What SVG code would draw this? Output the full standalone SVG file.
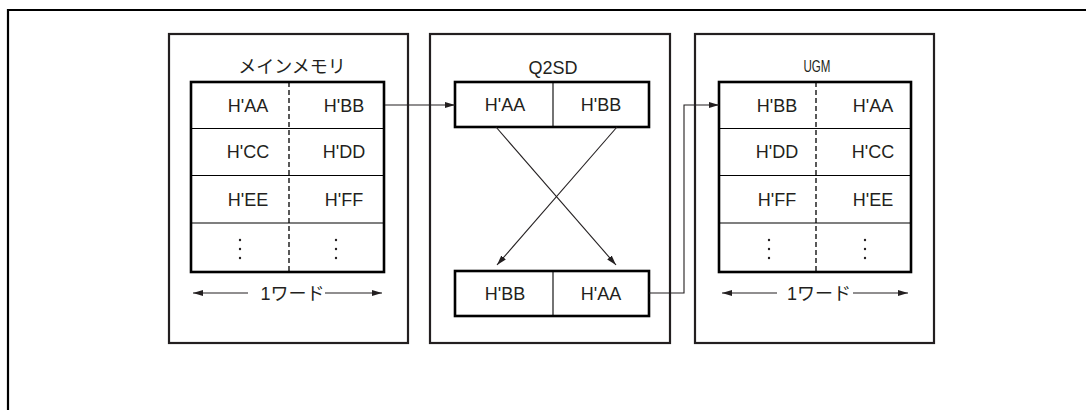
<svg xmlns="http://www.w3.org/2000/svg" width="1086" height="410" viewBox="0 0 1086 410">
<style>
.frame{fill:none;stroke:#000;stroke-width:2.2}
.box{fill:#fff;stroke:#231f20;stroke-width:2.2}
.tbl{fill:#fff;stroke:#000;stroke-width:2.6}
.row{stroke:#000;stroke-width:1.1;fill:none}
.dash{stroke:#000;stroke-width:1.3;stroke-dasharray:5 3;fill:none}
.con{stroke:#231f20;stroke-width:1.1;fill:none}
.t{font-family:"Liberation Sans",Arial,"Noto Sans CJK JP",sans-serif;font-size:18px;fill:#231f20;text-anchor:middle}
.j{font-family:"Noto Sans CJK JP","Liberation Sans",sans-serif;font-size:18px;fill:#231f20;text-anchor:middle}
.u{font-family:"Liberation Sans",Arial,sans-serif;font-size:17px;fill:#231f20;text-anchor:middle}
.dot{fill:#231f20}
</style>
<defs>
<marker id="ah" viewBox="0 0 10 6" refX="10" refY="3" markerWidth="10" markerHeight="6" markerUnits="userSpaceOnUse" orient="auto">
<path d="M0,0 L10,3 L0,6 Z" fill="#231f20"/>
</marker>
</defs>
<path class="frame" d="M8,411 V10 H1087"/>

<g id="main-memory">
<rect class="box" x="169" y="34" width="239" height="309"/>
<text class="j" x="292" y="73">メインメモリ</text>
<rect class="tbl" x="191" y="82" width="193" height="190"/>
<path class="row" d="M191,128.5 H384 M191,175.5 H384 M191,223 H384"/>
<path class="dash" d="M289,82 V272"/>
<text class="t" x="248" y="111.5">H'AA</text>
<text class="t" x="344" y="111.5">H'BB</text>
<text class="t" x="248" y="158">H'CC</text>
<text class="t" x="344" y="158">H'DD</text>
<text class="t" x="248" y="205.5">H'EE</text>
<text class="t" x="344" y="205.5">H'FF</text>
<circle class="dot" cx="240" cy="240" r="1.2"/><circle class="dot" cx="240" cy="249" r="1.2"/><circle class="dot" cx="240" cy="258" r="1.2"/>
<circle class="dot" cx="336" cy="240" r="1.2"/><circle class="dot" cx="336" cy="249" r="1.2"/><circle class="dot" cx="336" cy="258" r="1.2"/>
<text class="t" x="292.5" y="299.5">1ワード</text>
<path class="con" d="M248,293 H193" marker-end="url(#ah)"/>
<path class="con" d="M325,293 H382" marker-end="url(#ah)"/>
</g>

<g id="q2sd">
<rect class="box" x="430" y="34" width="240" height="309"/>
<text class="t" x="553" y="74">Q2SD</text>
<rect class="tbl" x="455" y="82" width="194" height="45"/>
<path class="row" d="M553,82 V127"/>
<text class="t" x="505" y="111">H'AA</text>
<text class="t" x="601" y="111">H'BB</text>
<rect class="tbl" x="455" y="271" width="194" height="45"/>
<path class="row" d="M553,271 V316"/>
<text class="t" x="505" y="300">H'BB</text>
<text class="t" x="601" y="300">H'AA</text>
</g>

<g id="ugm">
<rect class="box" x="695" y="34" width="239" height="309"/>
<text class="u" x="817" y="72" textLength="27" lengthAdjust="spacingAndGlyphs">UGM</text>
<rect class="tbl" x="719" y="82" width="192" height="190"/>
<path class="row" d="M719,128.5 H911 M719,175.5 H911 M719,223 H911"/>
<path class="dash" d="M816,82 V272"/>
<text class="t" x="777" y="111.5">H'BB</text>
<text class="t" x="873" y="111.5">H'AA</text>
<text class="t" x="777" y="158">H'DD</text>
<text class="t" x="873" y="158">H'CC</text>
<text class="t" x="777" y="205.5">H'FF</text>
<text class="t" x="873" y="205.5">H'EE</text>
<circle class="dot" cx="769" cy="240" r="1.2"/><circle class="dot" cx="769" cy="249" r="1.2"/><circle class="dot" cx="769" cy="258" r="1.2"/>
<circle class="dot" cx="865" cy="240" r="1.2"/><circle class="dot" cx="865" cy="249" r="1.2"/><circle class="dot" cx="865" cy="258" r="1.2"/>
<text class="t" x="819" y="299.5">1ワード</text>
<path class="con" d="M777,293 H722" marker-end="url(#ah)"/>
<path class="con" d="M853,293 H908" marker-end="url(#ah)"/>
</g>

<g id="connectors">
<path class="con" d="M385,105 H455" marker-end="url(#ah)"/>
<path class="con" d="M496,127 L616,265" marker-end="url(#ah)"/>
<path class="con" d="M617,127 L497,265" marker-end="url(#ah)"/>
<path class="con" d="M649,293 H684 V105 H719" marker-end="url(#ah)"/>
</g>
</svg>
